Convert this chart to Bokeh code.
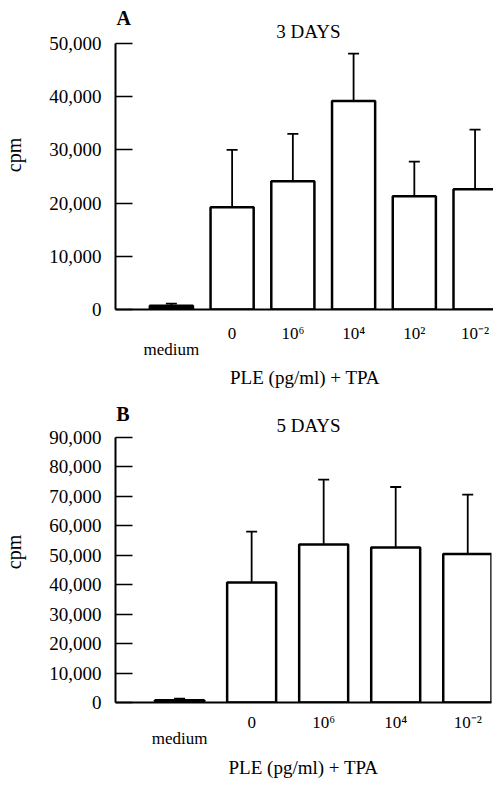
from bokeh.plotting import figure
from bokeh.layouts import column
from bokeh.models import (ColumnDataSource, Range1d, FixedTicker, NumeralTickFormatter,
                          Whisker, TeeHead, Label)
from bokeh.embed import file_html
from bokeh.resources import INLINE

FONT = "Liberation Serif"

# ---------------- data ----------------
# Panel A: 3 days
a_categories = ["medium", "0", "10⁶", "10⁴", "10²", "10⁻²"]
a_cpm = [700, 19200, 24100, 39200, 21300, 22600]
a_err = [400, 10800, 8900, 8900, 6500, 11200]
a_yticks = [0, 10000, 20000, 30000, 40000, 50000]

# Panel B: 5 days
b_categories = ["medium", "0", "10⁶", "10⁴", "10⁻²"]
b_cpm = [800, 40700, 53600, 52600, 50400]
b_err = [500, 17300, 22000, 20500, 20100]
b_yticks = [0, 10000, 20000, 30000, 40000, 50000, 60000, 70000, 80000, 90000]

x_title = "PLE (pg/ml) + TPA"
y_title = "cpm"


def panel(cats, vals, errs, yticks, xr, ytop, bar_w, fw, fh, borders, letter, title,
          letter_pos, title_pos, tick_standoff, label_standoff):
    n = len(cats)
    xs = list(range(n))
    src = ColumnDataSource(dict(
        x=xs, top=vals, hi=[v + e for v, e in zip(vals, errs)],
        color=["black"] + ["white"] * (n - 1)))
    p = figure(frame_width=fw, frame_height=fh, output_backend="svg", toolbar_location=None,
               x_range=Range1d(*xr), y_range=Range1d(0, ytop),
               min_border_left=borders[0], min_border_right=borders[1],
               min_border_top=borders[2], min_border_bottom=borders[3])
    p.outline_line_color = None
    p.grid.visible = False
    p.background_fill_color = "white"
    p.border_fill_color = "white"

    p.vbar(x="x", top="top", bottom=0, width=bar_w, source=src,
           fill_color="color", line_color="black", line_width=2.5)
    p.add_layout(Whisker(base="x", upper="hi", lower="top", source=src, dimension="height",
                         line_color="black", line_width=1.8,
                         upper_head=TeeHead(size=11, line_width=1.8, line_color="black"),
                         lower_head=None))

    ya = p.yaxis[0]
    ya.bounds = (yticks[0], yticks[-1])
    ya.ticker = FixedTicker(ticks=yticks)
    ya.formatter = NumeralTickFormatter(format="0,0")
    ya.major_tick_in = 17
    ya.major_tick_out = 0
    ya.major_tick_line_width = 1.5
    ya.minor_tick_line_color = None
    ya.axis_line_width = 2
    ya.axis_line_color = "black"
    ya.major_label_text_font = FONT
    ya.major_label_text_font_size = "19px"
    ya.major_label_text_color = "black"
    ya.major_label_standoff = 14
    ya.axis_label = y_title
    ya.axis_label_text_font = FONT
    ya.axis_label_text_font_size = "20px"
    ya.axis_label_text_font_style = "normal"
    ya.axis_label_text_color = "black"
    ya.axis_label_standoff = 21

    xa = p.xaxis[0]
    xa.ticker = FixedTicker(ticks=xs)
    xa.major_label_overrides = {i: (("\n" + c) if i == 0 else c) for i, c in enumerate(cats)}
    xa.major_tick_line_color = None
    xa.minor_tick_line_color = None
    xa.axis_line_width = 2
    xa.axis_line_color = "black"
    xa.major_label_text_font = FONT
    xa.major_label_text_font_size = "17px"
    xa.major_label_text_line_height = 0.85
    xa.major_label_text_color = "black"
    xa.major_label_standoff = tick_standoff
    xa.axis_label = x_title
    xa.axis_label_text_font = FONT
    xa.axis_label_text_font_size = "19px"
    xa.axis_label_text_font_style = "normal"
    xa.axis_label_text_color = "black"
    xa.axis_label_standoff = label_standoff

    p.add_layout(Label(x=letter_pos[0], y=letter_pos[1], text=letter, text_font=FONT,
                       text_font_size="20px", text_align="left", text_baseline="middle",
                       text_font_style="bold", text_color="black"))
    p.add_layout(Label(x=title_pos[0], y=title_pos[1], text=title, text_font=FONT,
                       text_font_size="19px", text_align="center", text_baseline="middle",
                       text_color="black"))
    return p


pA = panel(a_categories, a_cpm, a_err, a_yticks, (-0.92, 5.32), 58083, 0.71, 379, 309,
           (110, 0, 0, 92), "A", "3 DAYS", (-0.905, 54887), (2.257, 52256), 8, 5)
pB = panel(b_categories, b_cpm, b_err, b_yticks, (-0.89, 4.33), 102111, 0.68, 376, 301,
           (110, 3, 0, 60), "B", "5 DAYS", (-0.88, 98040), (1.79, 93969), 4, 6)

layout = column(pA, pB, spacing=0)
open("out.html", "w").write(file_html(layout, INLINE))
